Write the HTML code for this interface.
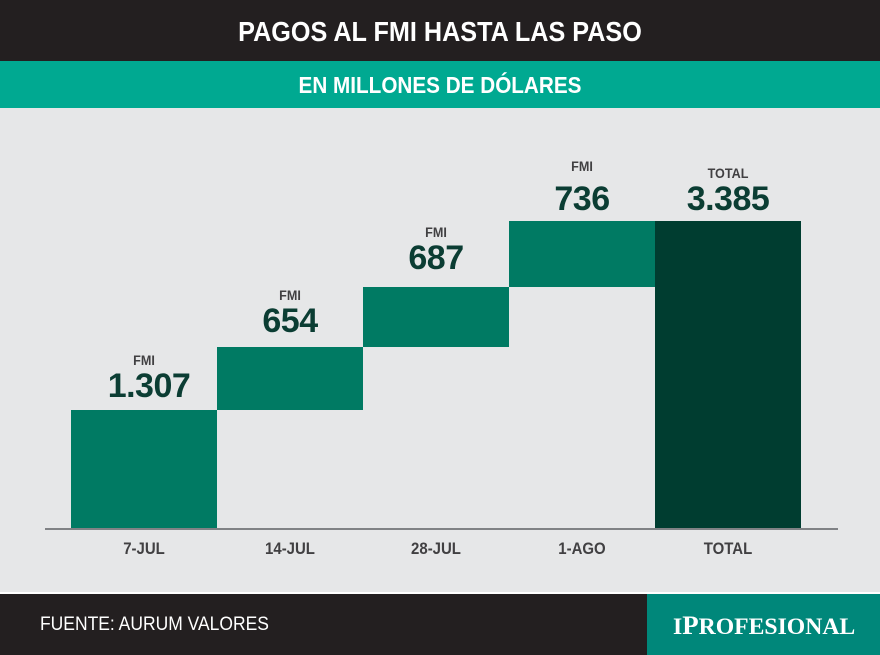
<!DOCTYPE html>
<html><head><meta charset="utf-8"><style>
body{margin:0;width:880px;height:655px;overflow:hidden;background:#e6e7e8;font-family:"Liberation Sans",sans-serif;position:relative}
div{position:absolute}
.t{left:0;width:880px;text-align:center;font-weight:bold;color:#fff;transform:scaleX(.9)}
.bar{background:#007a63}
.lab{width:146px;text-align:center;font-weight:bold;color:#414042}
.fmi{font-size:14px;color:#414042;transform:scaleX(.9)}
.num{font-size:34px;color:#0b3d33;letter-spacing:-0.5px}
.x{top:539px;font-size:17px;transform:scaleX(.88)}
</style></head><body>
<div style="left:0;top:0;width:880px;height:61px;background:#231f20"></div>
<div class="t" style="top:16px;font-size:28px">PAGOS AL FMI HASTA LAS PASO</div>
<div style="left:0;top:61px;width:880px;height:47px;background:#00a991"></div>
<div class="t" style="top:72px;font-size:23px">EN MILLONES DE DÓLARES</div>

<div class="bar" style="left:71px;top:410px;width:146px;height:119px"></div>
<div class="bar" style="left:217px;top:347px;width:146px;height:63px"></div>
<div class="bar" style="left:363px;top:287px;width:146px;height:60px"></div>
<div class="bar" style="left:509px;top:221px;width:146px;height:66px"></div>
<div style="left:655px;top:221px;width:146px;height:308px;background:#003d30"></div>
<div style="left:45px;top:528px;width:793px;height:2px;background:#808285"></div>

<div class="lab fmi" style="left:71px;top:352px">FMI</div>
<div class="lab num" style="left:76px;top:367px">1.307</div>
<div class="lab fmi" style="left:217px;top:287px">FMI</div>
<div class="lab num" style="left:217px;top:302px">654</div>
<div class="lab fmi" style="left:363px;top:224px">FMI</div>
<div class="lab num" style="left:363px;top:239px">687</div>
<div class="lab fmi" style="left:509px;top:158px">FMI</div>
<div class="lab num" style="left:509px;top:180px">736</div>
<div class="lab fmi" style="left:655px;top:165px">TOTAL</div>
<div class="lab num" style="left:655px;top:180px">3.385</div>

<div class="lab x" style="left:71px">7-JUL</div>
<div class="lab x" style="left:217px">14-JUL</div>
<div class="lab x" style="left:363px">28-JUL</div>
<div class="lab x" style="left:509px">1-AGO</div>
<div class="lab x" style="left:655px">TOTAL</div>

<div style="left:0;top:592px;width:880px;height:2px;background:#fff"></div>
<div style="left:0;top:594px;width:647px;height:61px;background:#231f20"></div>
<div style="left:647px;top:594px;width:233px;height:61px;background:#00877a"></div>
<div style="left:40px;top:614px;font-size:19px;color:#fff;transform:scaleX(.92);transform-origin:left">FUENTE: AURUM VALORES</div>
<div style="left:673px;top:611px;font-family:'Liberation Serif',serif;font-weight:bold;font-size:23px;color:#fff;transform:scaleX(1.03);transform-origin:left">I<span style="font-size:26px">P</span>ROFESIONAL</div>
</body></html>
